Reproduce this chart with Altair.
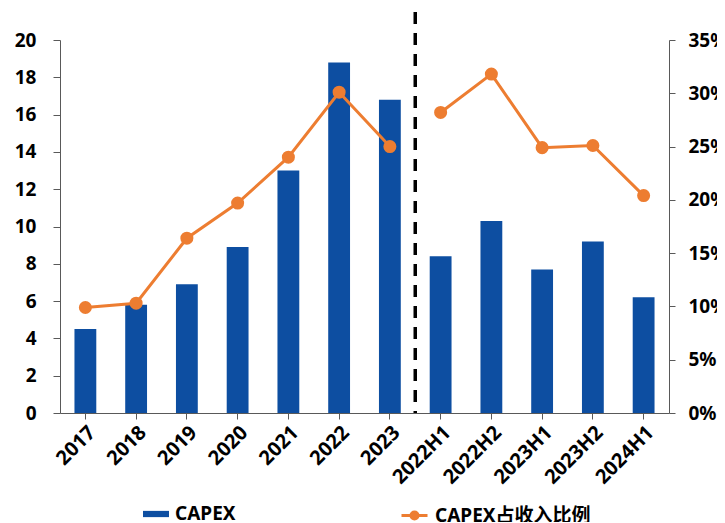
import altair as alt
import pandas as pd

categories = ["2017", "2018", "2019", "2020", "2021", "2022", "2023",
              "2022H1", "2022H2", "2023H1", "2023H2", "2024H1"]
capex = [4.5, 5.8, 6.9, 8.9, 13.0, 18.8, 16.8, 8.4, 10.3, 7.7, 9.2, 6.2]
ratio = [0.099, 0.103, 0.164, 0.197, 0.240, 0.301, 0.250,
         0.282, 0.318, 0.249, 0.251, 0.204]
group = ["年度"] * 7 + ["半年度"] * 5

BLUE = "#0d4ea1"
ORANGE = "#ed7d31"
FONT = "Noto Sans, Noto Sans CJK SC"
FS = 19

W = 609
H = 373
PI = 0.57
STEP = W / len(categories)

df = pd.DataFrame({"cat": categories, "capex": capex, "ratio": ratio, "grp": group,
                   "s1": "CAPEX", "s2": "CAPEX占收入比例"})
div = pd.DataFrame({"cat": ["2023"], "top": [21.5], "bot": [0.0]})

xscale = alt.Scale(domain=categories, paddingInner=PI, paddingOuter=PI / 2)
xaxis = alt.Axis(title=None, labelAngle=-45, labelFontSize=20, labelFontWeight="bold",
                 labelColor="black", labelFont=FONT, tickSize=6, labelPadding=3,
                 domainColor="#595959", tickColor="#595959")
xenc = alt.X("cat:N", sort=categories, scale=xscale, axis=xaxis)

laxis = alt.Axis(title=None, values=list(range(0, 21, 2)), grid=False, orient="left",
                 labelFontSize=FS, labelFontWeight="bold", labelColor="black",
                 labelFont=FONT, tickSize=7, labelPadding=17, labelOverlap=False,
                 domainColor="#595959", tickColor="#595959")
raxis = alt.Axis(title=None, values=[0, 0.05, 0.1, 0.15, 0.2, 0.25, 0.3, 0.35],
                 format=".0%", grid=False, orient="right", labelOverlap=False,
                 labelFontSize=FS, labelFontWeight="bold", labelColor="black",
                 labelFont=FONT, tickSize=6, labelPadding=13,
                 domainColor="#595959", tickColor="#595959")
lscale = alt.Scale(domain=[0, 20])
rscale = alt.Scale(domain=[0, 0.35])

rect_path = "M-1,-0.24H1V0.24H-1Z"
line_path = ("M-1,0H1M0.27,0A0.27,0.27,0,1,1,-0.27,0A0.27,0.27,0,1,1,0.27,0")

bars = alt.Chart(df).mark_bar().encode(
    x=xenc,
    y=alt.Y("capex:Q", scale=lscale, axis=laxis),
    color=alt.Color("s1:N", scale=alt.Scale(domain=["CAPEX"], range=[BLUE]),
                    legend=alt.Legend(title=None, orient="none", legendX=83, legendY=461,
                                      symbolType=rect_path,
                                      symbolSize=676, symbolStrokeWidth=0, labelFontSize=FS,
                                      labelFontWeight="bold", labelFont=FONT, labelColor="black",
                                      labelOffset=6)),
)

divider = alt.Chart(div).mark_rule(color="black", strokeWidth=3.5, strokeDash=[12, 9],
                                   xOffset=STEP * PI / 2).encode(
    x=alt.X("cat:N", sort=categories, scale=xscale, bandPosition=1, axis=xaxis),
    y=alt.Y("top:Q", scale=lscale, axis=laxis),
    y2="bot:Q",
)

left = alt.layer(bars, divider)

line = alt.Chart(df).mark_line(strokeWidth=3).encode(
    x=alt.X("cat:N", sort=categories, scale=xscale, axis=xaxis),
    y=alt.Y("ratio:Q", scale=rscale, axis=raxis),
    detail="grp:N",
    stroke=alt.Stroke("s2:N", scale=alt.Scale(domain=["CAPEX占收入比例"], range=[ORANGE]),
                      legend=alt.Legend(title=None, orient="none", legendX=340, legendY=461,
                                        symbolType=line_path,
                                        symbolSize=676, symbolStrokeWidth=3,
                                        symbolFillColor=ORANGE, labelFontSize=FS,
                                        labelFontWeight="bold", labelFont=FONT,
                                        labelColor="black", labelOffset=6)),
)
points = alt.Chart(df).mark_circle(size=170, opacity=1, color=ORANGE).encode(
    x=alt.X("cat:N", sort=categories, scale=xscale, axis=xaxis),
    y=alt.Y("ratio:Q", scale=rscale, axis=raxis),
)
right = alt.layer(line, points)

chart = alt.layer(left, right).resolve_scale(
    y="independent", color="independent", stroke="independent"
).properties(
    width=W, height=H,
    autosize=alt.AutoSizeParams(type="none"),
    padding={"left": 52, "top": 32, "right": 48, "bottom": 109},
).configure_view(stroke=None)

chart.save("out.html", embed_options={"renderer": "svg", "actions": False})
